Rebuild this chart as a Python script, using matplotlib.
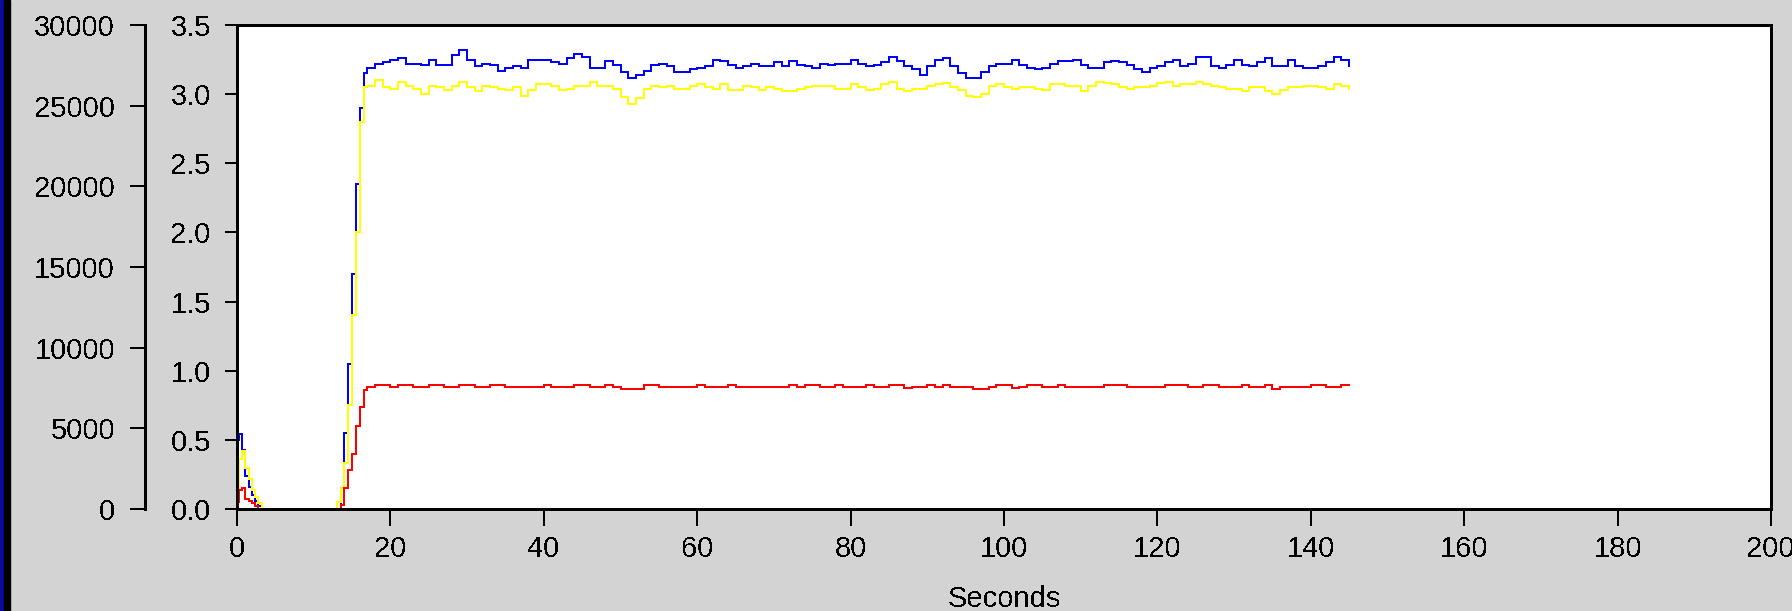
import matplotlib.pyplot as plt
from matplotlib.patches import Rectangle
from matplotlib.ticker import FormatStrFormatter

# ========================

# début : pic initial, silence, puis montée (secondes irrégulières)
t_debut = [0.0, 0.3, 0.7, 1.1, 1.5, 1.9, 2.3, 2.8, 3.3, 6.0, 9.0, 12.0,
           13.0, 13.5, 14.0, 14.5, 15.0, 15.5, 16.0, 16.5]
bleu_debut = [0.50, 0.54, 0.43, 0.24, 0.16, 0.10, 0.06, 0.02, 0.0, 0.0, 0.0, 0.0,
              0.0, 0.15, 0.55, 1.05, 1.70, 2.35, 2.90, 3.15]
jaune_debut = [0.10, 0.36, 0.42, 0.30, 0.22, 0.14, 0.09, 0.04, 0.0, 0.0, 0.0, 0.0,
               0.05, 0.15, 0.33, 0.75, 1.40, 2.00, 2.80, 3.05]
rouge_debut = [0.05, 0.14, 0.15, 0.07, 0.06, 0.04, 0.02, 0.0, 0.0, 0.0, 0.0, 0.0,
               0.0, 0.03, 0.15, 0.28, 0.40, 0.60, 0.74, 0.86]

# plateau : une valeur par seconde, de 17 s à 145 s
t_plateau = list(range(17, 146))

bleu_plateau = [
    3.19, 3.22, 3.23, 3.25, 3.26, 3.22, 3.22, 3.21, 3.25, 3.21,
    3.21, 3.28, 3.32, 3.25, 3.20, 3.22, 3.21, 3.17, 3.19, 3.20,
    3.19, 3.25, 3.25, 3.25, 3.23, 3.22, 3.26, 3.29, 3.27, 3.19,
    3.19, 3.24, 3.21, 3.16, 3.12, 3.14, 3.17, 3.21, 3.22, 3.20,
    3.16,
    3.16, 3.18, 3.19, 3.20, 3.25, 3.24, 3.21, 3.19, 3.20, 3.22,
    3.20, 3.20, 3.23, 3.20, 3.24, 3.21, 3.20, 3.19, 3.22, 3.21,
    3.22, 3.22, 3.25, 3.22, 3.20, 3.21, 3.23, 3.27, 3.24, 3.20,
    3.18, 3.14, 3.20, 3.25, 3.26, 3.20, 3.15, 3.12, 3.12, 3.16,
    3.20, 3.22, 3.22, 3.25,
    3.21, 3.19, 3.18, 3.19, 3.22, 3.24, 3.24, 3.25, 3.21, 3.19,
    3.19, 3.23, 3.24, 3.23, 3.21, 3.18, 3.16, 3.19, 3.20, 3.23,
    3.25, 3.20, 3.22, 3.27, 3.27, 3.20, 3.19, 3.21, 3.25, 3.21,
    3.20, 3.23, 3.26, 3.20, 3.20, 3.25, 3.20, 3.19, 3.19, 3.20,
    3.23, 3.27, 3.25, 3.20,
]

jaune_plateau = [
    3.06, 3.10, 3.05, 3.04, 3.09, 3.06, 3.04, 3.00, 3.06, 3.05,
    3.03, 3.06, 3.09, 3.05, 3.02, 3.06, 3.05, 3.04, 3.03, 3.05,
    2.99, 3.03, 3.07, 3.07, 3.06, 3.03, 3.04, 3.06, 3.06, 3.09,
    3.06, 3.06, 3.04, 2.98, 2.93, 2.97, 3.04, 3.06, 3.05, 3.06,
    3.04,
    3.04, 3.06, 3.07, 3.05, 3.04, 3.07, 3.03, 3.03, 3.06, 3.05,
    3.03, 3.05, 3.04, 3.02, 3.02, 3.04, 3.05, 3.06, 3.06, 3.06,
    3.04, 3.04, 3.07, 3.05, 3.03, 3.04, 3.07, 3.09, 3.04, 3.02,
    3.04, 3.04, 3.06, 3.07, 3.08, 3.05, 3.03, 2.99, 2.98, 3.00,
    3.06, 3.07, 3.05, 3.04,
    3.05, 3.05, 3.04, 3.03, 3.07, 3.07, 3.06, 3.06, 3.02, 3.06,
    3.09, 3.08, 3.07, 3.05, 3.04, 3.05, 3.05, 3.06, 3.08, 3.09,
    3.06, 3.07, 3.07, 3.09, 3.07, 3.06, 3.05, 3.04, 3.04, 3.02,
    3.05, 3.05, 3.02, 3.00, 3.03, 3.05, 3.05, 3.06, 3.06, 3.05,
    3.04, 3.07, 3.06, 3.04,
]

rouge_plateau = [
    0.885, 0.90, 0.90, 0.885, 0.90, 0.90, 0.885, 0.885, 0.90, 0.90,
    0.885, 0.885, 0.90, 0.90, 0.885, 0.885, 0.90, 0.90, 0.885, 0.88,
    0.885, 0.885, 0.885, 0.90, 0.885, 0.885, 0.885, 0.90, 0.90, 0.885,
    0.885, 0.90, 0.885, 0.87, 0.87, 0.87, 0.90, 0.90, 0.885, 0.885,
    0.885, 0.885, 0.885, 0.90, 0.885, 0.885, 0.885, 0.90, 0.885, 0.885,
    0.885, 0.885, 0.885, 0.885, 0.885, 0.90, 0.885, 0.90, 0.90, 0.885,
    0.885, 0.90, 0.885, 0.885,
    0.885, 0.90, 0.885, 0.885, 0.90, 0.90, 0.875, 0.885, 0.885, 0.90,
    0.885, 0.90, 0.885, 0.885, 0.885, 0.87, 0.87, 0.885, 0.90, 0.90,
    0.875, 0.885, 0.90, 0.90, 0.885, 0.885, 0.90, 0.885, 0.885, 0.885,
    0.885, 0.885, 0.90, 0.90, 0.90, 0.885, 0.885, 0.885, 0.885, 0.885,
    0.90, 0.90, 0.90, 0.885, 0.885, 0.90, 0.90, 0.885, 0.885, 0.885,
    0.90, 0.885, 0.885, 0.90, 0.87, 0.885, 0.885, 0.885, 0.885, 0.90,
    0.90, 0.885, 0.885, 0.90, 0.90,
]

ticks_x = [0, 20, 40, 60, 80, 100, 120, 140, 160, 180, 200]
ticks_gauche = [0, 5000, 10000, 15000, 20000, 25000, 30000]
ticks_droite = [0.0, 0.5, 1.0, 1.5, 2.0, 2.5, 3.0, 3.5]

# Mise en page
# ========================

PX = 0.72  # un pixel en points (dpi 100)
W, H = 1792, 611

plt.rcParams['font.family'] = ['Liberation Sans', 'DejaVu Sans']
plt.rcParams['font.size'] = 21
plt.rcParams['text.antialiased'] = False

fig = plt.figure(figsize=(W / 100, H / 100), dpi=100, facecolor='#d3d3d3')
# bord gauche de la fenêtre
fig.patches.append(Rectangle((0, 0), 4 / W, 1, transform=fig.transFigure,
                             color='#0a0a9c', zorder=0))
fig.patches.append(Rectangle((4 / W, 0), 6 / W, 1, transform=fig.transFigure,
                             color='black', zorder=0))

ax = fig.add_axes([237 / W, 102 / H, (1771 - 237) / W, 484 / H])
ax.set_facecolor('white')

temps = t_debut + t_plateau
series = [
    (bleu_debut + bleu_plateau, '#0000ff'),
    (jaune_debut + jaune_plateau, '#ffff00'),
    (rouge_debut + rouge_plateau, '#ff0000'),
]
for valeurs, couleur in series:
    ax.plot(temps, valeurs, color=couleur, lw=2 * PX, drawstyle='steps-post',
            antialiased=False)

ax.set_xlim(0, 200)
ax.set_ylim(0, 3.5)
ax.set_xticks(ticks_x)
ax.set_yticks(ticks_droite)
ax.yaxis.set_major_formatter(FormatStrFormatter('%.1f'))
for s in ax.spines.values():
    s.set_linewidth(3 * PX)
ax.tick_params(axis='y', length=12 * PX, width=2 * PX, pad=14 * PX, labelsize=21)
ax.tick_params(axis='x', length=17 * PX, width=2 * PX, pad=9 * PX, labelsize=21)
ax.set_xlabel('Seconds', fontsize=21, labelpad=22 * PX)

# second axe vertical, décalé à gauche
ax2 = ax.twinx()
ax2.set_ylim(0, 30000)
ax2.set_yticks(ticks_gauche)
ax2.yaxis.tick_left()
ax2.spines['left'].set_position(('outward', 92 * PX))
ax2.spines['left'].set_visible(True)
ax2.spines['left'].set_linewidth(3 * PX)
for nom in ['right', 'top', 'bottom']:
    ax2.spines[nom].set_visible(False)
ax2.tick_params(axis='y', length=15 * PX, width=2 * PX, pad=15 * PX, labelsize=21)

fig.savefig('out.png', dpi=100, facecolor=fig.get_facecolor())
